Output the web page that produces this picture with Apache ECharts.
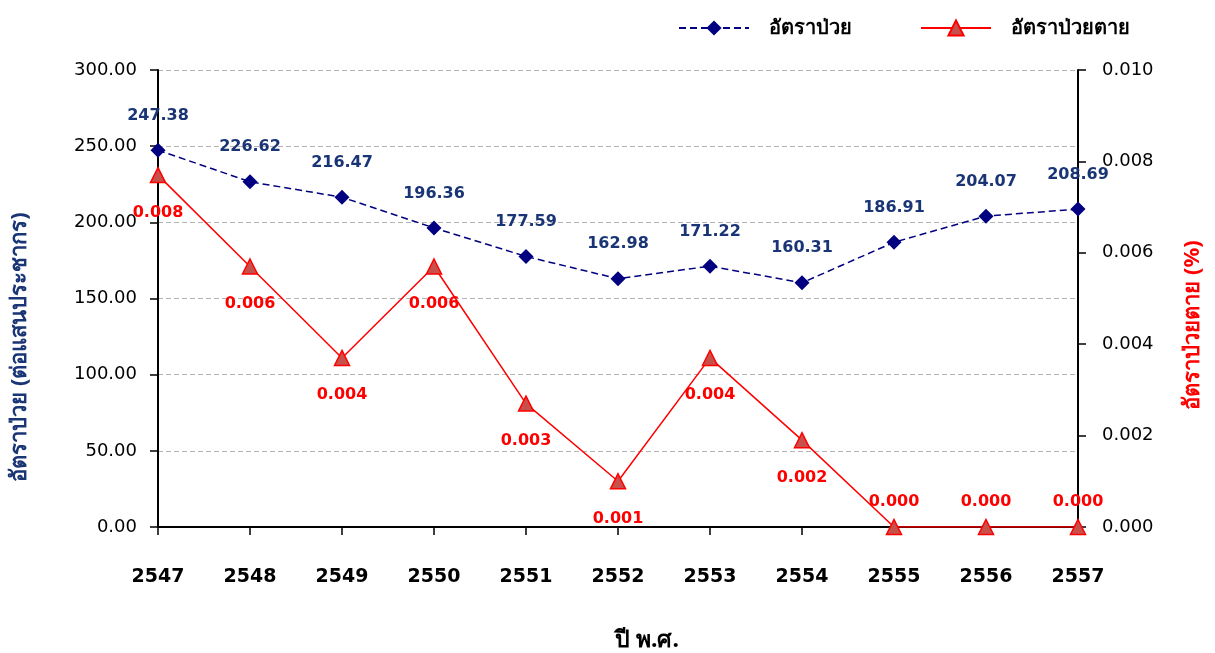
<!DOCTYPE html>
<html>
<head>
<meta charset="utf-8">
<script src="https://cdn.jsdelivr.net/npm/echarts@6/dist/echarts.min.js"></script>
<style>
  html, body { margin: 0; padding: 0; background: #ffffff; }
  #chart { width: 1215px; height: 653px; }
</style>
</head>
<body>
<div id="chart"></div>
<script>
// Years (Buddhist Era)
const years = ['2547', '2548', '2549', '2550', '2551', '2552', '2553', '2554', '2555', '2556', '2557'];
// Morbidity rate per 100,000 population
const morbidity = [247.38, 226.62, 216.47, 196.36, 177.59, 162.98, 171.22, 160.31, 186.91, 204.07, 208.69];
// Case fatality rate (%)
const fatality = [0.0077, 0.0057, 0.0037, 0.0057, 0.0027, 0.0010, 0.0037, 0.0019, 0, 0, 0];

const seriesNames = ['อัตราป่วย', 'อัตราป่วยตาย'];
const leftTitle = 'อัตราป่วย (ต่อแสนประชากร)';
const rightTitle = 'อัตราป่วยตาย (%)';
const xTitle = 'ปี พ.ศ.';

const NUM_FONT = 'DejaVu Sans, Verdana, sans-serif';
const THAI_FONT = 'Noto Sans, Tahoma, sans-serif';
const NAVY = '#000080';
const LABEL_NAVY = '#1A3575';
const RED = '#FF0000';

const chart = echarts.init(document.getElementById('chart'), null, { renderer: 'canvas' });

chart.setOption({
  backgroundColor: '#ffffff',
  animation: false,
  grid: { left: 158, right: 137, top: 70, bottom: 126, containLabel: false },
  legend: {
    top: 13,
    right: 80,
    itemWidth: 70,
    itemHeight: 19,
    itemGap: 68,
    textStyle: { fontFamily: THAI_FONT, fontWeight: 'bold', fontSize: 20, color: '#000000', padding: [0, 0, 0, 15] },
    data: seriesNames
  },
  xAxis: {
    type: 'category',
    data: years,
    boundaryGap: false,
    axisLine: { lineStyle: { color: '#000000', width: 2 } },
    axisTick: { show: true, length: 8, alignWithLabel: true, lineStyle: { color: '#000000', width: 1.5 } },
    axisLabel: { margin: 41, fontFamily: NUM_FONT, fontWeight: 'bold', fontSize: 19, color: '#000000' },
    splitLine: { show: false }
  },
  yAxis: [
    {
      type: 'value',
      min: 0, max: 300, interval: 50,
      position: 'left',
      axisLine: { show: true, lineStyle: { color: '#000000', width: 2 } },
      axisTick: { show: true, length: 8, lineStyle: { color: '#000000', width: 1.5 } },
      axisLabel: {
        margin: 21, fontFamily: NUM_FONT, fontSize: 18, color: '#000000',
        formatter: v => v.toFixed(2)
      },
      splitLine: { show: true, lineStyle: { color: '#B4B4B4', type: [5, 3], width: 1 } }
    },
    {
      type: 'value',
      min: 0, max: 0.010, interval: 0.002,
      position: 'right',
      axisLine: { show: true, lineStyle: { color: '#000000', width: 2 } },
      axisTick: { show: true, length: 8, inside: false, lineStyle: { color: '#000000', width: 1.5 } },
      axisLabel: {
        margin: 24, fontFamily: NUM_FONT, fontSize: 18, color: '#000000',
        formatter: v => v.toFixed(3)
      },
      splitLine: { show: false }
    }
  ],
  series: [
    {
      name: seriesNames[0],
      type: 'line',
      yAxisIndex: 0,
      data: morbidity,
      symbol: 'diamond',
      symbolSize: 15,
      itemStyle: { color: NAVY },
      lineStyle: { color: NAVY, width: 1.5, type: [7, 4] },
      label: {
        show: true, position: 'top', distance: 19,
        fontFamily: NUM_FONT, fontWeight: 'bold', fontSize: 16, color: LABEL_NAVY,
        formatter: p => p.value.toFixed(2)
      },
      z: 3
    },
    {
      name: seriesNames[1],
      type: 'line',
      yAxisIndex: 1,
      data: fatality.map(v => ({
        value: v,
        label: v === 0 ? { position: 'top', distance: 9 } : { position: 'bottom', distance: 21 }
      })),
      symbol: 'triangle',
      symbolSize: 15,
      itemStyle: { color: '#C8504B', borderColor: RED, borderWidth: 1.5 },
      lineStyle: { color: RED, width: 1.5 },
      label: {
        show: true,
        fontFamily: NUM_FONT, fontWeight: 'bold', fontSize: 16, color: RED,
        formatter: p => p.value.toFixed(3)
      },
      z: 4
    }
  ],
  graphic: [
    {
      type: 'text', x: 20, y: 347, rotation: Math.PI / 2,
      style: {
        text: leftTitle, fontFamily: THAI_FONT, fontWeight: 'bold', fontSize: 22,
        fill: LABEL_NAVY, align: 'center', verticalAlign: 'middle'
      }
    },
    {
      type: 'text', x: 1193, y: 325, rotation: Math.PI / 2,
      style: {
        text: rightTitle, fontFamily: THAI_FONT, fontWeight: 'bold', fontSize: 22,
        fill: RED, align: 'center', verticalAlign: 'middle'
      }
    },
    {
      type: 'text', x: 647, y: 640,
      style: {
        text: xTitle, fontFamily: THAI_FONT, fontWeight: 'bold', fontSize: 23,
        fill: '#000000', align: 'center', verticalAlign: 'middle'
      }
    }
  ]
});
</script>
</body>
</html>
